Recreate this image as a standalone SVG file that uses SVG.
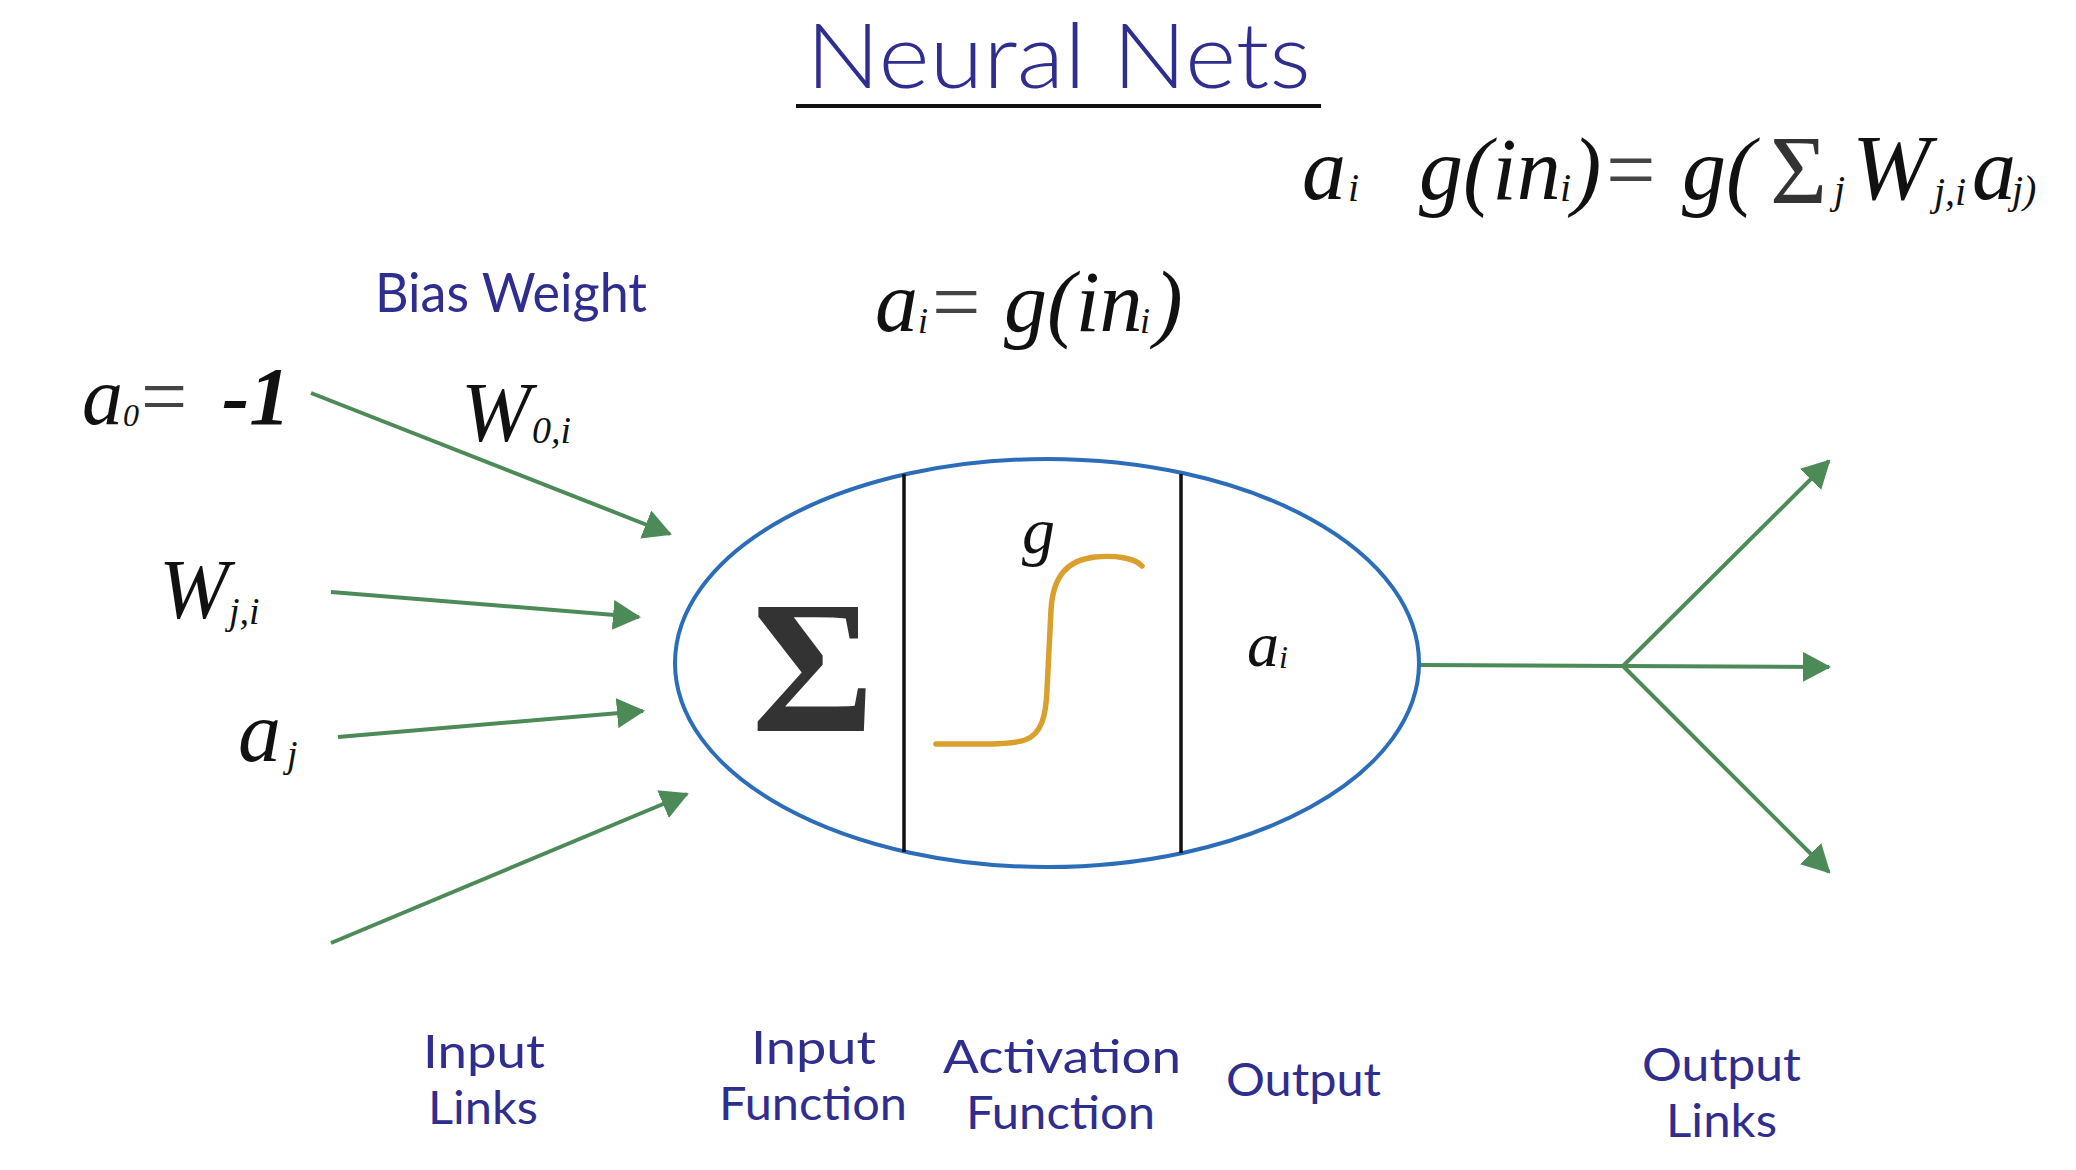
<svg xmlns="http://www.w3.org/2000/svg" width="2076" height="1170" viewBox="0 0 2076 1170">
<style>
.hw{font-family:"Lato","Open Sans",sans-serif;fill:#2f2d8e;}
.m{font-family:"Liberation Serif","Times New Roman",serif;font-style:italic;fill:#111;}
.up{font-style:normal;}
.lk{stroke:#4c8a57;stroke-width:4;fill:none;marker-end:url(#ah);}
.ln{stroke:#4c8a57;stroke-width:4;fill:none;}
</style>
<defs>
<marker id="ah" viewBox="0 0 28 30" refX="26" refY="15" markerWidth="28" markerHeight="30" markerUnits="userSpaceOnUse" orient="auto">
<path d="M0,0 L28,15 L0,30 z" fill="#4c8a57"/>
</marker>
</defs>
<rect width="2076" height="1170" fill="#ffffff"/>

<g id="title">
<text class="hw" x="806" y="88" font-size="90" font-weight="300" textLength="505" lengthAdjust="spacingAndGlyphs">Neural  Nets</text>
<line x1="796" y1="106" x2="1321" y2="106" stroke="#111" stroke-width="4"/>
</g>

<g id="formula-top" class="m" font-size="88">
<text x="1302" y="199">a</text>
<text x="1348" y="201" font-size="40">i</text>
<text x="1419" y="199">g(in</text>
<text x="1560" y="201" font-size="40">i</text>
<text x="1572" y="199">)</text>
<text x="1606" y="199" class="up" fill="#444">=</text>
<text x="1682" y="199">g(</text>
<text x="1770" y="203" class="up" font-size="98" fill="#333">Σ</text>
<text x="1834" y="203" font-size="40">j</text>
<text x="1852" y="199" font-size="94">W</text>
<text x="1934" y="205" font-size="40">j,i</text>
<text x="1972" y="199">a</text>
<text x="2012" y="203" font-size="40">j)</text>
</g>

<g id="formula-mid" class="m" font-size="86">
<text x="875" y="331">a</text>
<text x="918" y="333" font-size="36">i</text>
<text x="932" y="331" class="up" fill="#444">=</text>
<text x="1004" y="331">g(in</text>
<text x="1140" y="333" font-size="36">i</text>
<text x="1154" y="331">)</text>
</g>

<g id="bias-label">
<text class="hw" x="375" y="312" font-size="54" textLength="272" lengthAdjust="spacingAndGlyphs">Bias  Weight</text>
</g>

<g id="inputs" class="m">
<text x="82" y="424" font-size="82">a</text>
<text x="123" y="426" font-size="32">0</text>
<text x="141" y="424" font-size="82" class="up" fill="#444">=</text>
<text x="222" y="424" font-size="82" font-weight="bold">-1</text>
<text x="461" y="441" font-size="84">W</text>
<text x="532" y="443" font-size="38">0,i</text>
<text x="159" y="618" font-size="84">W</text>
<text x="229" y="624" font-size="38">j,i</text>
<text x="238" y="761" font-size="86">a</text>
<text x="287" y="767" font-size="38">j</text>
</g>

<g id="connectors">
<line class="lk" x1="311" y1="393" x2="670" y2="534"/>
<line class="lk" x1="331" y1="592" x2="639" y2="617"/>
<line class="lk" x1="338" y1="737" x2="643" y2="711"/>
<line class="lk" x1="331" y1="943" x2="687" y2="794"/>
<line class="ln" x1="1419" y1="665" x2="1623" y2="666"/>
<line class="lk" x1="1623" y1="666" x2="1829" y2="461"/>
<line class="lk" x1="1623" y1="666" x2="1829" y2="667"/>
<line class="lk" x1="1623" y1="666" x2="1829" y2="872"/>
</g>

<g id="neuron">
<ellipse cx="1047" cy="663" rx="372" ry="204" fill="none" stroke="#2b6db8" stroke-width="4"/>
<line x1="904" y1="474" x2="904" y2="852" stroke="#111" stroke-width="3.5"/>
<line x1="1181" y1="474" x2="1181" y2="853" stroke="#111" stroke-width="3.5"/>
<text x="813" y="731" font-family="Liberation Serif, Times New Roman, serif" font-size="188" font-weight="bold" text-anchor="middle" fill="#333">Σ</text>
<text class="m" x="1022" y="553" font-size="66">g</text>
<path d="M936,744 C980,744 1010,745 1025,740 C1042,734 1046,715 1047,690 L1051,610 C1053,575 1068,560 1095,557 C1115,555 1135,558 1142,566" fill="none" stroke="#d9a02e" stroke-width="5.5" stroke-linecap="round"/>
<text class="m" x="1247" y="666" font-size="64">a</text>
<text class="m" x="1279" y="668" font-size="32">i</text>
</g>

<g id="labels" class="hw" font-size="46">
<text x="423" y="1068" textLength="122" lengthAdjust="spacingAndGlyphs">Input</text>
<text x="428" y="1124" textLength="110" lengthAdjust="spacingAndGlyphs">Links</text>
<text x="751" y="1064" textLength="125" lengthAdjust="spacingAndGlyphs">Input</text>
<text x="719" y="1120" textLength="188" lengthAdjust="spacingAndGlyphs">Function</text>
<text x="943" y="1073" textLength="238" lengthAdjust="spacingAndGlyphs">Activation</text>
<text x="966" y="1129" textLength="189" lengthAdjust="spacingAndGlyphs">Function</text>
<text x="1226" y="1096" textLength="155" lengthAdjust="spacingAndGlyphs">Output</text>
<text x="1642" y="1081" textLength="159" lengthAdjust="spacingAndGlyphs">Output</text>
<text x="1666" y="1137" textLength="111" lengthAdjust="spacingAndGlyphs">Links</text>
</g>
</svg>
